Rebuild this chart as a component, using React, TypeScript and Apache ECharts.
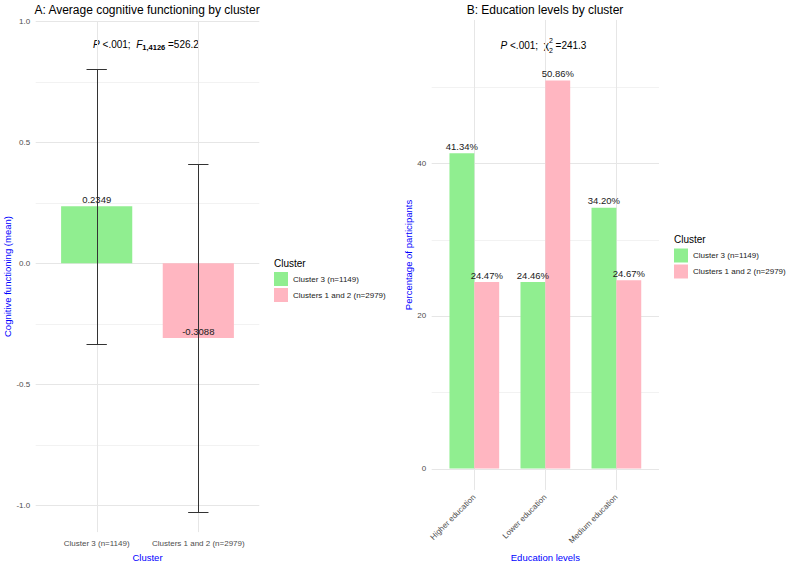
import React, { useEffect, useRef } from 'react';
import * as echarts from 'echarts';

// ---------- data ----------
const clusterLabels = ['Cluster 3 (n=1149)', 'Clusters 1 and 2 (n=2979)'];
const cognitiveMean = [0.2349, -0.3088];
const cognitiveSD = [0.567, 0.718];
const educationLevels = ['Higher education', 'Lower education', 'Medium education'];
const educationCluster3 = [41.34, 24.46, 34.2];
const educationClusters12 = [24.47, 50.86, 24.67];
const cognitiveTicks = [-1, -0.5, 0, 0.5, 1];
const cognitiveMinorTicks = [-0.75, -0.25, 0.25, 0.75];
const educationTicks = [0, 20, 40];
const educationMinorTicks = [10, 30, 50];

const GREEN = '#90EE90';
const PINK = '#FFB6C1';
const FONT = '"Liberation Sans", Arial, Helvetica, sans-serif';
const AXIS_TITLE = '#0000FF';
const TICK = '#4d4d4d';

function measure(text: string, size: number, weight = 'normal', style = 'normal') {
  const c = document.createElement('canvas').getContext('2d') as CanvasRenderingContext2D;
  c.font = `${style} ${weight} ${size}px ${FONT}`;
  return c.measureText(text).width;
}

type Piece = { t: string; size: number; italic?: boolean; bold?: boolean; dy?: number; noAdvance?: boolean };

function annotation(cx: number, cy: number, pieces: Piece[]) {
  const widths = pieces.map((p) => measure(p.t, p.size, p.bold ? 'bold' : 'normal', p.italic ? 'italic' : 'normal'));
  let total = 0;
  pieces.forEach((p, i) => { if (!p.noAdvance) total += widths[i]; });
  let x = cx - total / 2;
  return pieces.map((p, i) => {
    const el = {
      type: 'text', x, y: cy + (p.dy || 0), silent: true,
      style: {
        text: p.t, fontSize: p.size, fontFamily: FONT,
        fontStyle: p.italic ? 'italic' : 'normal', fontWeight: p.bold ? 'bold' : 'normal',
        fill: '#000', align: 'left', verticalAlign: 'middle',
      },
    };
    if (!p.noAdvance) x += widths[i];
    return el;
  });
}

function hGrid(idx: number, majors: number[], minors: number[]) {
  return {
    type: 'custom', xAxisIndex: idx, yAxisIndex: idx, silent: true, z: 0,
    data: [...majors.map((v) => [1, v, 1]), ...minors.map((v) => [1, v, 0])],
    renderItem: (params: any, api: any) => {
      const cs = params.coordSys;
      const y = Math.round(api.coord([api.value(0), api.value(1)])[1]) + 0.5;
      const major = api.value(2) === 1;
      return {
        type: 'line',
        shape: { x1: cs.x, y1: y, x2: cs.x + cs.width, y2: y },
        style: { stroke: major ? '#e6e6e6' : '#efefef', lineWidth: major ? 1 : 0.8 },
      };
    },
  };
}

function vGrid(idx: number, positions: number[]) {
  return {
    type: 'custom', xAxisIndex: idx, yAxisIndex: idx, silent: true, z: 0,
    data: positions.map((p) => [p, 0]),
    renderItem: (params: any, api: any) => {
      const cs = params.coordSys;
      const x = Math.round(api.coord([api.value(0), 0])[0]) + 0.5;
      return {
        type: 'line',
        shape: { x1: x, y1: cs.y, x2: x, y2: cs.y + cs.height },
        style: { stroke: '#e6e6e6', lineWidth: 1 },
      };
    },
  };
}

function bars(name: string, color: string, idx: number, xs: number[], values: number[], offset: number, half: number) {
  return {
    type: 'custom', name, xAxisIndex: idx, yAxisIndex: idx, z: 2,
    itemStyle: { color },
    data: values.map((v, i) => [xs[i], v]),
    renderItem: (params: any, api: any) => {
      const x = api.value(0) + offset;
      const v = api.value(1);
      const a = api.coord([x - half, 0]);
      const b = api.coord([x + half, v]);
      return {
        type: 'rect',
        shape: { x: a[0], y: Math.min(a[1], b[1]), width: b[0] - a[0], height: Math.abs(b[1] - a[1]) },
        style: { fill: color },
      };
    },
  };
}

function labels(idx: number, values: number[], offset: number, fmt: (v: number) => string) {
  return {
    type: 'custom', xAxisIndex: idx, yAxisIndex: idx, silent: true, z: 6,
    data: values.map((v, i) => [i + 1, v]),
    renderItem: (params: any, api: any) => {
      const p = api.coord([api.value(0) + offset, api.value(1)]);
      return {
        type: 'text', x: p[0], y: p[1] - 6.7,
        style: { text: fmt(api.value(1)), fontSize: 9.5, fontFamily: FONT, fill: '#1a1a1a', align: 'center', verticalAlign: 'middle' },
      };
    },
  };
}

function errorBars(idx: number, means: number[], sds: number[], capHalf: number) {
  return {
    type: 'custom', xAxisIndex: idx, yAxisIndex: idx, silent: true, z: 4,
    data: means.map((m, i) => [i + 1, m, sds[i]]),
    renderItem: (params: any, api: any) => {
      const x = api.value(0), m = api.value(1), s = api.value(2);
      const top = api.coord([x, m + s]);
      const bot = api.coord([x, m - s]);
      const l = api.coord([x - capHalf, m])[0];
      const r = api.coord([x + capHalf, m])[0];
      const cx = Math.round(top[0]) + 0.5;
      const ty = Math.round(top[1]) + 0.5;
      const by = Math.round(bot[1]) + 0.5;
      const st = { stroke: '#333333', lineWidth: 1 };
      return {
        type: 'group',
        children: [
          { type: 'line', shape: { x1: cx, y1: ty, x2: cx, y2: by }, style: st },
          { type: 'line', shape: { x1: l, y1: ty, x2: r, y2: ty }, style: st },
          { type: 'line', shape: { x1: l, y1: by, x2: r, y2: by }, style: st },
        ],
      };
    },
  };
}

const axisNameStyle = { color: AXIS_TITLE, fontSize: 9.5, fontFamily: FONT };
const tickStyle = { color: TICK, fontSize: 8, fontFamily: FONT };

export default function App() {
  const ref = useRef<HTMLDivElement>(null);
  useEffect(() => {
    if (!ref.current) return;
    const chart = echarts.init(ref.current, null, { renderer: 'svg' });
    const legendBase = {
      data: clusterLabels, orient: 'vertical', itemWidth: 14, itemHeight: 14, itemGap: 2, padding: 0,
      icon: 'rect', selectedMode: false, itemStyle: { borderWidth: 0 },
      textStyle: { fontSize: 8, color: '#1a1a1a', fontFamily: FONT },
    };
    const option: any = {
      animation: false,
      backgroundColor: '#ffffff',
      textStyle: { fontFamily: FONT },
      grid: [
        { left: 35.7, top: 21, width: 223.6, height: 512 },
        { left: 431.7, top: 20, width: 227.3, height: 472 },
      ],
      xAxis: [
        {
          gridIndex: 0, type: 'value', min: 0.4, max: 2.6,
          axisLine: { show: false }, axisTick: { show: false }, splitLine: { show: false },
          axisLabel: { ...tickStyle, customValues: [1, 2], margin: 7, formatter: (v: number) => clusterLabels[Math.round(v) - 1] || '' },
          name: 'Cluster', nameLocation: 'middle', nameGap: 19, nameTextStyle: axisNameStyle,
        },
        {
          gridIndex: 1, type: 'value', min: 0.4, max: 3.6,
          axisLine: { show: false }, axisTick: { show: false }, splitLine: { show: false },
          axisLabel: { ...tickStyle, customValues: [1, 2, 3], rotate: 45, margin: 6, formatter: (v: number) => educationLevels[Math.round(v) - 1] || '' },
          name: 'Education levels', nameLocation: 'middle', nameGap: 60, nameTextStyle: axisNameStyle,
        },
      ],
      yAxis: [
        {
          gridIndex: 0, type: 'value', min: -1.11, max: 1.0,
          axisLine: { show: false }, axisTick: { show: false }, splitLine: { show: false },
          axisLabel: { ...tickStyle, customValues: cognitiveTicks, margin: 5.5, formatter: (v: number) => v.toFixed(1) },
          name: 'Cognitive functioning (mean)', nameLocation: 'middle', nameGap: 15, nameRotate: 90, nameTextStyle: axisNameStyle,
        },
        {
          gridIndex: 1, type: 'value', min: -2.8, max: 58.8,
          axisLine: { show: false }, axisTick: { show: false }, splitLine: { show: false },
          axisLabel: { ...tickStyle, customValues: educationTicks, margin: 5.5, formatter: (v: number) => String(v) },
          name: 'Percentage of participants', nameLocation: 'middle', nameGap: 11, nameRotate: 90, nameTextStyle: axisNameStyle,
        },
      ],
      legend: [
        { ...legendBase, left: 274, top: 272 },
        { ...legendBase, left: 674, top: 248.5 },
      ],
      graphic: [
        { type: 'text', x: 147, y: 10, silent: true, style: { text: 'A: Average cognitive functioning by cluster', fontSize: 12, fontFamily: FONT, fill: '#000', align: 'center', verticalAlign: 'middle' } },
        { type: 'text', x: 545, y: 10, silent: true, style: { text: 'B: Education levels by cluster', fontSize: 12, fontFamily: FONT, fill: '#000', align: 'center', verticalAlign: 'middle' } },
        { type: 'text', x: 274, y: 263, silent: true, style: { text: 'Cluster', fontSize: 10, fontFamily: FONT, fill: '#000', align: 'left', verticalAlign: 'middle' } },
        { type: 'text', x: 674, y: 239.5, silent: true, style: { text: 'Cluster', fontSize: 10, fontFamily: FONT, fill: '#000', align: 'left', verticalAlign: 'middle' } },
        ...annotation(146, 44, [
          { t: 'P', size: 10, italic: true },
          { t: ' <.001;  ', size: 10 },
          { t: 'F', size: 10, italic: true },
          { t: '1,4126', size: 7.5, bold: true, dy: 3 },
          { t: ' =526.2', size: 10 },
        ]),
        ...annotation(543.5, 45, [
          { t: 'P', size: 10, italic: true },
          { t: ' <.001;  ', size: 10 },
          { t: 'χ', size: 10 },
          { t: '2', size: 7, dy: -5, noAdvance: true },
          { t: '2', size: 7, dy: 5 },
          { t: ' =241.3', size: 10 },
        ]),
      ],
      series: [
        hGrid(0, cognitiveTicks, cognitiveMinorTicks),
        vGrid(0, [1, 2]),
        bars(clusterLabels[0], GREEN, 0, [1], [cognitiveMean[0]], 0, 0.35),
        bars(clusterLabels[1], PINK, 0, [2], [cognitiveMean[1]], 0, 0.35),
        errorBars(0, cognitiveMean, cognitiveSD, 0.1),
        labels(0, cognitiveMean, 0, (v) => v.toFixed(4)),
        hGrid(1, educationTicks, educationMinorTicks),
        vGrid(1, [1, 2, 3]),
        bars(clusterLabels[0], GREEN, 1, [1, 2, 3], educationCluster3, -0.175, 0.175),
        bars(clusterLabels[1], PINK, 1, [1, 2, 3], educationClusters12, 0.175, 0.175),
        labels(1, educationCluster3, -0.175, (v) => v.toFixed(2) + '%'),
        labels(1, educationClusters12, 0.175, (v) => v.toFixed(2) + '%'),
      ],
    };
    chart.setOption(option);
    return () => chart.dispose();
  }, []);
  return <div ref={ref} style={{ position: 'absolute', left: 0, top: 0, width: 800, height: 567, background: '#fff' }} />;
}
